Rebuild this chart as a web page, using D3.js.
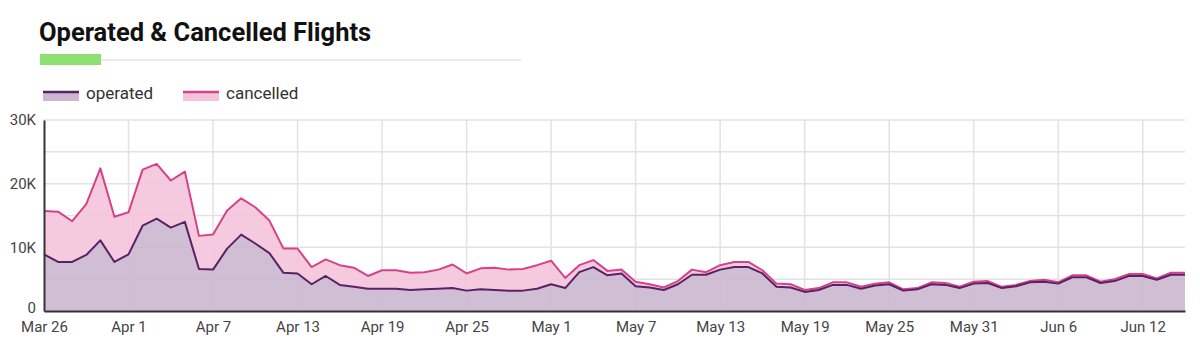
<!DOCTYPE html>
<html>
<head>
<meta charset="utf-8">
<script src="https://cdn.jsdelivr.net/npm/d3@7"></script>
<style>
  body { margin: 0; background: #fff; font-family: Roboto, "Noto Sans", sans-serif; }
  .chart-container { width: 1200px; height: 354px; }
</style>
</head>
<body>
<div class="chart-container"></div>
<script>
// data (daily, Mar 26 - Jun 15)
const startDate = '2020-03-26';

const operated = [
  8900, 7700, 7700, 8800, 11100, 7700, 8900, 13400, 14500, 13100,
  14000, 6600, 6500, 9800, 12000, 10600, 9100, 6000, 5900, 4200,
  5500, 4100, 3800, 3500, 3500, 3500, 3300, 3400, 3500, 3600,
  3200, 3400, 3300, 3200, 3200, 3500, 4200, 3600, 6100, 6900,
  5600, 5900, 3900, 3700, 3300, 4200, 5700, 5700, 6500, 6900,
  6900, 5900, 3800, 3700, 3000, 3300, 4100, 4100, 3500, 4000,
  4200, 3200, 3400, 4200, 4100, 3600, 4300, 4400, 3600, 3900,
  4500, 4600, 4300, 5300, 5300, 4400, 4700, 5500, 5500, 4900,
  5700, 5700
];

const cancelled = [
  6800, 7900, 6400, 8000, 11300, 7100, 6600, 8800, 8600, 7400,
  7900, 5200, 5500, 6000, 5700, 5700, 5100, 3800, 3900, 2700,
  2600, 3100, 3000, 2000, 2900, 2900, 2700, 2700, 3000, 3700,
  2700, 3300, 3500, 3300, 3400, 3700, 3700, 1600, 1100, 1100,
  700, 600, 700, 500, 400, 500, 800, 400, 700, 800,
  800, 500, 500, 500, 300, 300, 400, 400, 300, 300,
  300, 200, 200, 300, 300, 200, 300, 300, 200, 200,
  200, 300, 200, 300, 300, 200, 300, 300, 300, 200,
  300, 300
];

const seriesKeys = ['operated', 'cancelled'];
const yTicks = [0, 10000, 20000, 30000];
const yGrid = [5000, 10000, 15000, 20000, 25000, 30000];
const xTickLabels = ['Mar 26', 'Apr 1', 'Apr 7', 'Apr 13', 'Apr 19', 'Apr 25', 'May 1',
  'May 7', 'May 13', 'May 19', 'May 25', 'May 31', 'Jun 6', 'Jun 12'];

const lineColor = { operated: '#5a2166', cancelled: '#d6428a' };
const fillColor = { operated: '#cbb7cf', cancelled: '#f5c4da' };

const container = d3.select('.chart-container');

const parseDate = d3.timeParse('%Y-%m-%d');

const day0 = parseDate(startDate);
const data = operated.map((v, i) => ({
  date: d3.timeDay.offset(day0, i),
  operated: v,
  cancelled: cancelled[i]
}));

const margin = { left: 44, right: 15, top: 120, bottom: 43 };
const outerW = 1200, outerH = 354;
const w = outerW - margin.left - margin.right,
  h = outerH - margin.top - margin.bottom;

const svg = container.append('svg')
  .attr('width', outerW)
  .attr('height', outerH);

// title block
svg.append('text')
  .attr('x', 39)
  .attr('y', 41)
  .style('font-size', '25.5px')
  .style('font-weight', 'bold')
  .style('fill', '#111')
  .text('Operated & Cancelled Flights');

svg.append('line')
  .attr('x1', 100).attr('x2', 521)
  .attr('y1', 60).attr('y2', 60)
  .attr('stroke', '#e4e4e4')
  .attr('stroke-width', 1.5);

svg.append('rect')
  .attr('x', 40).attr('y', 54)
  .attr('width', 61).attr('height', 11)
  .attr('fill', '#8ce06f');

// legend
const legend = svg.append('g').attr('transform', 'translate(43, 92)');
const legendX = [0, 140];
seriesKeys.forEach((k, i) => {
  const lg = legend.append('g').attr('transform', `translate(${legendX[i]}, 0)`);
  lg.append('rect').attr('x', 0).attr('y', 0).attr('width', 36).attr('height', 9)
    .attr('fill', fillColor[k]);
  lg.append('line').attr('x1', 0).attr('x2', 36).attr('y1', 0).attr('y2', 0)
    .attr('stroke', lineColor[k]).attr('stroke-width', 2.5);
  lg.append('text').attr('x', 43).attr('y', 7)
    .style('font-size', '17px')
    .style('fill', '#333')
    .text(k);
});

const g = svg.append('g')
  .attr('transform', `translate(${margin.left}, ${margin.top})`);

const x = d3.scaleTime()
  .domain(d3.extent(data, d => d.date))
  .range([0, w]);

const y = d3.scaleLinear()
  .domain([0, 30000])
  .range([h, 0]);

const xTicks = xTickLabels.map((lbl, i) => d3.timeDay.offset(day0, i * 6));

// grid
g.append('g')
  .selectAll('line')
  .data(yGrid)
  .enter()
  .append('line')
  .attr('x1', 0).attr('x2', w)
  .attr('y1', d => y(d)).attr('y2', d => y(d))
  .attr('stroke', '#e2e2e2')
  .attr('stroke-width', 1.5);

g.append('g')
  .selectAll('line')
  .data(xTicks.slice(1))
  .enter()
  .append('line')
  .attr('x1', d => x(d)).attr('x2', d => x(d))
  .attr('y1', 0).attr('y2', h)
  .attr('stroke', '#e2e2e2')
  .attr('stroke-width', 1.5);

// stacked areas
const stacked = d3.stack().keys(seriesKeys)(data);

const area = d3.area()
  .x(d => x(d.data.date))
  .y0(d => y(d[0]))
  .y1(d => y(d[1]));

const line = d3.line()
  .x(d => x(d.data.date))
  .y(d => y(d[1]));

g.append('g')
  .selectAll('path')
  .data(stacked)
  .enter()
  .append('path')
  .attr('d', area)
  .attr('fill', d => fillColor[d.key])
  .attr('fill-opacity', 0.9);

g.append('g')
  .attr('fill', 'none')
  .selectAll('path')
  .data(stacked.slice().reverse())
  .enter()
  .append('path')
  .attr('d', line)
  .attr('stroke', d => lineColor[d.key])
  .attr('stroke-width', 2)
  .attr('stroke-linejoin', 'round');

// axes
const yAxis = g.append('g')
  .call(d3.axisLeft(y).tickValues(yTicks).tickSize(0).tickPadding(8)
    .tickFormat(d => d === 0 ? '0' : d3.format('~s')(d).replace('k', 'K')));
yAxis.select('.domain').attr('stroke', '#333').attr('stroke-width', 2);
yAxis.selectAll('text').style('font-size', '15px').style('fill', '#444')
  .style('font-family', 'Roboto, sans-serif');
// nudge the zero label up a touch so it clears the first date label
yAxis.selectAll('.tick text').filter(d => d === 0).attr('dy', '0.1em');

const xAxis = g.append('g')
  .attr('transform', `translate(0, ${h})`)
  .call(d3.axisBottom(x).tickValues(xTicks).tickSize(0).tickPadding(10)
    .tickFormat((d, i) => xTickLabels[i]));
xAxis.select('.domain').attr('stroke', '#333').attr('stroke-width', 2);
xAxis.selectAll('text').style('font-size', '15px').style('fill', '#444')
  .style('font-family', 'Roboto, sans-serif');
</script>
</body>
</html>
